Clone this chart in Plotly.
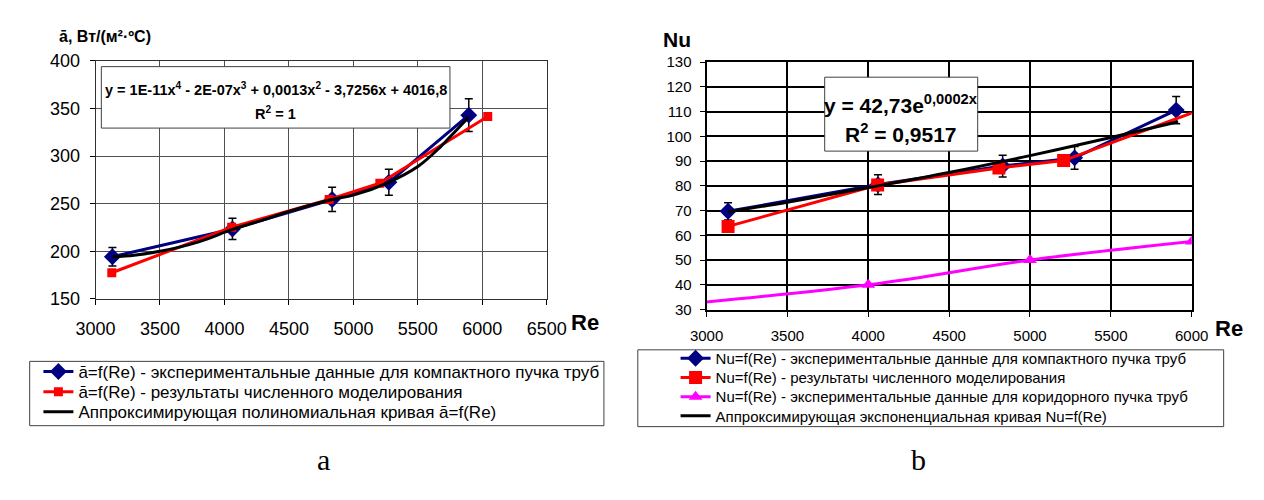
import plotly.graph_objects as go

W, H = 1264, 500
FONT = "Liberation Sans, Arial, sans-serif"

# ---------------- chart (a) ----------------
re_exp_a = [3131, 4062, 4835, 5275, 5895]
alpha_exp_a = [194.3, 223.5, 254.5, 272.5, 343.0]
re_num_a = [3126, 4056, 4812, 5205, 6042]
alpha_num_a = [177.5, 225.3, 254.5, 271.5, 341.6]
re_fit_a = [3131, 3300, 3500, 3800, 4062, 4300, 4500, 4835, 5000, 5275, 5500, 5670, 5795, 5895]
alpha_fit_a = [194.3, 196.0, 200.0, 210.0, 223.0, 233.0, 242.0, 254.5, 259.0, 272.5, 289.0, 309.0, 326.7, 341.0]
xticks_a = [3000, 3500, 4000, 4500, 5000, 5500, 6000, 6500]
yticks_a = [150, 200, 250, 300, 350, 400]

# ---------------- chart (b) ----------------
re_exp_b = [3133, 4060, 4831, 5276, 5904]
nu_exp_b = [69.7, 80.5, 88.0, 91.3, 110.6]
re_num_b = [3133, 4058, 4808, 5208, 6044]
nu_num_b = [63.6, 80.3, 87.2, 90.2, 110.5]
re_cor_b = [2000, 4000, 5000, 6000]
nu_cor_b = [27.0, 40.0, 50.0, 57.5]
re_fit_b = [3133, 3500, 4000, 4500, 5000, 5500, 5916]
nu_fit_b = [69.5, 73.4, 79.3, 85.4, 92.2, 99.5, 105.9]
xticks_b = [3000, 3500, 4000, 4500, 5000, 5500, 6000]
yticks_b = [30, 40, 50, 60, 70, 80, 90, 100, 110, 120, 130]

names_a = ["ā=f(Re) - экспериментальные данные для компактного пучка труб",
           "ā=f(Re) - результаты численного моделирования",
           "Аппроксимирующая полиномиальная кривая ā=f(Re)"]
names_b = ["Nu=f(Re) - экспериментальные данные для компактного пучка труб",
           "Nu=f(Re) - результаты численного моделирования",
           "Nu=f(Re) - экспериментальные данные для коридорного пучка труб",
           "Аппроксимирующая экспоненциальная кривая Nu=f(Re)"]


def px(x):
    return x / W


def py(y):
    return 1 - y / H


NAVY = "#000080"
RED = "#FF0000"
MAG = "#FF00FF"

fig = go.Figure()

# chart (a) traces
fig.add_trace(go.Scatter(x=re_exp_a, y=alpha_exp_a, mode="lines+markers", name=names_a[0],
                         line=dict(color=NAVY, width=3),
                         marker=dict(symbol="diamond", size=13, color=NAVY),
                         error_y=dict(type="percent", value=5, color="black", thickness=1.5, width=4),
                         xaxis="x", yaxis="y", legend="legend"))
fig.add_trace(go.Scatter(x=re_num_a, y=alpha_num_a, mode="lines+markers", name=names_a[1],
                         line=dict(color=RED, width=3),
                         marker=dict(symbol="square", size=9, color=RED),
                         xaxis="x", yaxis="y", legend="legend2"))
fig.add_trace(go.Scatter(x=re_fit_a, y=alpha_fit_a, mode="lines", name=names_a[2],
                         line=dict(color="black", width=3, shape="spline"),
                         xaxis="x", yaxis="y", legend="legend3"))

# chart (b) traces
fig.add_trace(go.Scatter(x=re_exp_b, y=nu_exp_b, mode="lines+markers", name=names_b[0],
                         line=dict(color=NAVY, width=3),
                         marker=dict(symbol="diamond", size=13, color=NAVY),
                         error_y=dict(type="percent", value=5, color="black", thickness=1.5, width=4),
                         xaxis="x2", yaxis="y2", legend="legend4"))
fig.add_trace(go.Scatter(x=re_num_b, y=nu_num_b, mode="lines+markers", name=names_b[1],
                         line=dict(color=RED, width=3),
                         marker=dict(symbol="square", size=13, color=RED),
                         xaxis="x2", yaxis="y2", legend="legend5"))
fig.add_trace(go.Scatter(x=re_cor_b, y=nu_cor_b, mode="lines+markers", name=names_b[2],
                         line=dict(color=MAG, width=3, shape="spline"),
                         marker=dict(symbol="triangle-up", size=12, color=MAG),
                         xaxis="x2", yaxis="y2", legend="legend6"))
fig.add_trace(go.Scatter(x=re_fit_b, y=nu_fit_b, mode="lines", name=names_b[3],
                         line=dict(color="black", width=3, shape="spline"),
                         xaxis="x2", yaxis="y2", legend="legend7"))


def leg(x, y, size):
    return dict(x=px(x), y=py(y), xanchor="left", yanchor="middle", bgcolor="rgba(0,0,0,0)",
                borderwidth=0, font=dict(family=FONT, size=size, color="black"),
                itemwidth=30, tracegroupgap=0)


LA_X, LB_X = 19, 677
legends = dict(
    legend=leg(LA_X, 377, 17), legend2=leg(LA_X, 398, 17), legend3=leg(LA_X, 419, 17),
    legend4=leg(LB_X, 363, 15), legend5=leg(LB_X, 383, 15), legend6=leg(LB_X, 403, 15),
    legend7=leg(LB_X, 423, 15),
)

axis_common = dict(showgrid=True, zeroline=False, showline=True, mirror=True,
                   ticks="outside", ticklen=5, tickcolor="black")

fig.update_layout(
    width=W, height=H, margin=dict(l=0, r=0, t=0, b=0),
    paper_bgcolor="white", plot_bgcolor="white", showlegend=True,
    font=dict(family=FONT, color="black"),
    xaxis=dict(domain=[px(78), px(544)], range=[3000, 6500], tickvals=xticks_a,
               ticktext=[str(v) for v in xticks_a], anchor="y",
               gridcolor="#505050", gridwidth=1, linecolor="#303030", linewidth=1,
               tickfont=dict(size=18), ticklabelstandoff=8, **axis_common),
    yaxis=dict(domain=[py(301), py(53)], range=[150, 400], tickvals=yticks_a,
               ticktext=[str(v) for v in yticks_a], anchor="x",
               gridcolor="#505050", gridwidth=1, linecolor="#303030", linewidth=1,
               tickfont=dict(size=18), ticklabelstandoff=6, **axis_common),
    xaxis2=dict(domain=[px(709), px(1210)], range=[3000, 6000], tickvals=xticks_b,
                ticktext=[str(v) for v in xticks_b], anchor="y2",
                gridcolor="black", gridwidth=2, linecolor="black", linewidth=2,
                tickfont=dict(size=15), ticklabelstandoff=6, **axis_common),
    yaxis2=dict(domain=[py(312), py(54.3)], range=[30, 130], tickvals=yticks_b,
                ticktext=[str(v) for v in yticks_b], anchor="x2",
                gridcolor="black", gridwidth=2, linecolor="black", linewidth=2,
                tickfont=dict(size=15), ticklabelstandoff=5, **axis_common),
    **legends,
)

shapes = [
    # equation boxes
    dict(type="rect", xref="paper", yref="paper", x0=px(84), x1=px(444), y0=py(123), y1=py(59),
         line=dict(color="#404040", width=1), fillcolor="white", layer="above"),
    dict(type="rect", xref="paper", yref="paper", x0=px(831), x1=px(989), y0=py(147), y1=py(70),
         line=dict(color="#404040", width=1), fillcolor="white", layer="above"),
    # legend boxes
    dict(type="rect", xref="paper", yref="paper", x0=px(10), x1=px(603), y0=py(433), y1=py(366),
         line=dict(color="#404040", width=1), fillcolor="rgba(0,0,0,0)", layer="below"),
    dict(type="rect", xref="paper", yref="paper", x0=px(638), x1=px(1243), y0=py(434), y1=py(354),
         line=dict(color="#404040", width=1), fillcolor="rgba(0,0,0,0)", layer="below"),
]
fig.update_layout(shapes=shapes)


def ann(text, x, y, size, bold=True, family=FONT, xanchor="center"):
    t = f"<b>{text}</b>" if bold else text
    return dict(text=t, x=px(x), y=py(y), xref="paper", yref="paper", showarrow=False,
                xanchor=xanchor, yanchor="middle", font=dict(family=family, size=size, color="black"))


annotations = [
    ann("y = 1E-11x<sup>4</sup> - 2E-07x<sup>3</sup> + 0,0013x<sup>2</sup> - 3,7256x + 4016,8", 264, 82, 14.5),
    ann("R<sup>2</sup> = 1", 264, 107, 14.5),
    ann("y = 42,73e<sup>0,0002x</sup>", 910, 98, 21),
    ann("R<sup>2</sup> = 0,9517", 910, 128, 21),
    ann("ā, Вт/(м²·ºС)", 88, 28, 16),
    ann("Nu", 678, 31, 21),
    ann("Re", 583, 325, 22),
    ann("Re", 1248, 332, 22),
    ann("a", 313, 468, 30, bold=False, family="Liberation Serif, Times New Roman, serif"),
    ann("b", 928, 468, 30, bold=False, family="Liberation Serif, Times New Roman, serif"),
]
fig.update_layout(annotations=annotations)

fig.write_html("out.html", config={"displayModeBar": False},
               post_script="document.body.style.margin='0px';")
